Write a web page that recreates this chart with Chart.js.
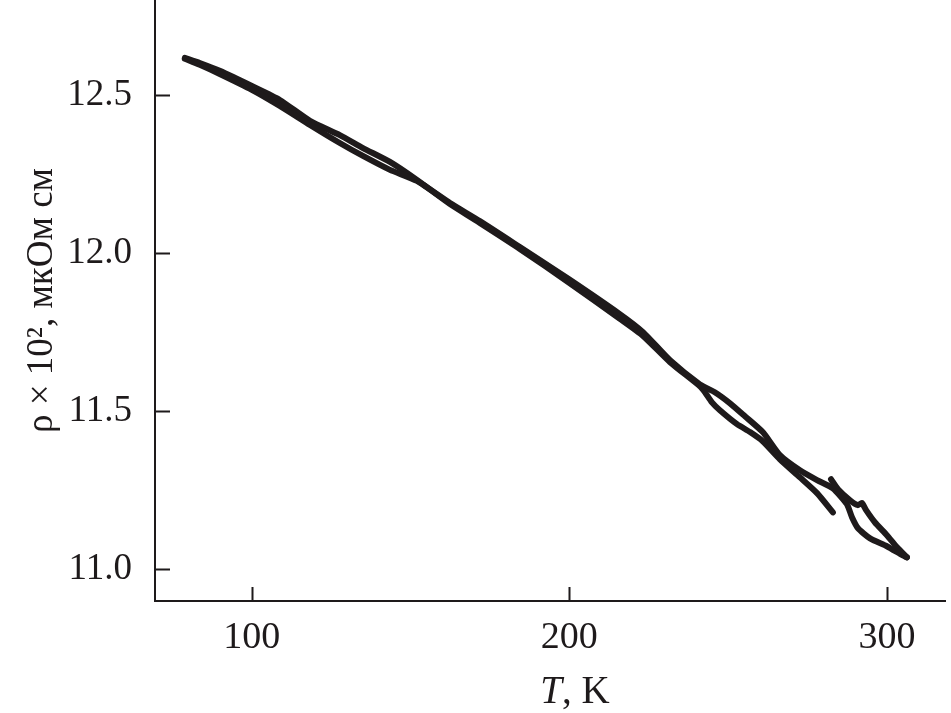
<!DOCTYPE html>
<html>
<head>
<meta charset="utf-8">
<script src="https://cdn.jsdelivr.net/npm/chart.js@4"></script>
<style>
  html, body { margin: 0; padding: 0; background: #fff; }
  canvas { display: block; }
</style>
</head>
<body>
<canvas id="chart" width="951" height="713"></canvas>
<script>
// first heating, 283 K -> 306 K
const heat1T   = [282.4, 284.6, 288.4, 290.9, 292.1, 293.4, 296.2, 300.0, 303.2, 306.3];
const heat1Rho = [11.285, 11.253, 11.218, 11.203, 11.210, 11.188, 11.149, 11.108, 11.070, 11.038];

// cooling, 306 K -> 79 K
const coolT   = [306.3, 305.0, 300.0, 294.7, 290.9, 289.0, 287.4, 283.0, 278.0, 272.6, 266.3, 260.9,
                 255.3, 250.6, 245.8, 241.1, 231.7, 223.2, 215.9, 199.8, 184.4, 171.8, 162.4, 152.0,
                 143.5, 135.0, 127.7, 118.3, 108.8, 100.0, 89.9, 83.6, 78.9];
const coolRho = [11.038, 11.044, 11.073, 11.098, 11.130, 11.165, 11.206, 11.256, 11.282, 11.313, 11.361, 11.434,
                 11.484, 11.525, 11.560, 11.585, 11.661, 11.750, 11.807, 11.918, 12.019, 12.101, 12.158, 12.228,
                 12.263, 12.307, 12.348, 12.405, 12.465, 12.516, 12.566, 12.595, 12.614];

// second heating, 79 K -> 283 K
const heat2T   = [78.9, 83.6, 89.9, 100.0, 108.8, 118.3, 127.7, 135.0, 143.5, 152.0, 162.4, 171.8,
                  184.4, 199.8, 215.9, 223.2, 231.7, 241.1, 242.7, 244.9, 247.4, 252.8, 256.9, 260.9,
                  266.3, 272.6, 278.0, 283.0];
const heat2Rho = [12.617, 12.601, 12.576, 12.528, 12.484, 12.418, 12.373, 12.332, 12.288, 12.231, 12.155, 12.095,
                  12.013, 11.907, 11.792, 11.738, 11.655, 11.579, 11.560, 11.528, 11.503, 11.459, 11.434, 11.405,
                  11.348, 11.291, 11.241, 11.180];

const xTicks = [100, 200, 300];
const yTicks = [11.0, 11.5, 12.0, 12.5];

const ink = '#1e1a1b';
const serif = "'Liberation Serif', 'DejaVu Serif', serif";

const toPoints = (xs, ys) => xs.map((t, i) => ({ x: t, y: ys[i] }));

const lineStyle = {
    borderColor: ink,
    borderWidth: 6,
    borderCapStyle: 'round',
    borderJoinStyle: 'round',
    pointRadius: 0,
    tension: 0.2,
    showLine: true,
    fill: false
};

// ticks point into the plot, and the x title has an italic T
const axisExtras = {
    id: 'axisExtras',
    afterDraw(chart) {
        const { ctx, chartArea, scales: { x, y } } = chart;
        ctx.save();
        ctx.strokeStyle = ink;
        ctx.lineWidth = 2;
        ctx.beginPath();
        xTicks.forEach(v => {
            const px = Math.round(x.getPixelForValue(v)) + 0.5;
            ctx.moveTo(px, chartArea.bottom);
            ctx.lineTo(px, chartArea.bottom - 14);
        });
        yTicks.forEach(v => {
            const py = Math.round(y.getPixelForValue(v)) + 0.5;
            ctx.moveTo(chartArea.left, py);
            ctx.lineTo(chartArea.left + 15, py);
        });
        ctx.stroke();

        ctx.fillStyle = ink;
        ctx.textBaseline = 'alphabetic';
        const italic = 'italic 39px ' + serif;
        const upright = '39px ' + serif;
        ctx.font = italic;
        const wT = ctx.measureText('T').width;
        ctx.font = upright;
        const wRest = ctx.measureText(', K').width;
        const cx = (chartArea.left + chartArea.right) / 2 + 25;
        let sx = cx - (wT + wRest) / 2;
        ctx.font = italic;
        ctx.fillText('T', sx, 703);
        ctx.font = upright;
        ctx.fillText(', K', sx + wT, 703);
        ctx.restore();
    }
};

new Chart(document.getElementById('chart').getContext('2d'), {
    type: 'scatter',
    data: {
        datasets: [
            { ...lineStyle, data: toPoints(heat1T, heat1Rho) },
            { ...lineStyle, data: toPoints(coolT, coolRho) },
            { ...lineStyle, data: toPoints(heat2T, heat2Rho) }
        ]
    },
    options: {
        responsive: false,
        devicePixelRatio: 1,
        animation: false,
        layout: { padding: { left: 0, right: 6, top: 0, bottom: 0 } },
        plugins: { legend: { display: false }, tooltip: { enabled: false } },
        scales: {
            x: {
                type: 'linear',
                min: 69.5,
                max: 318.3,
                afterBuildTicks: (scale) => { scale.ticks = xTicks.map(v => ({ value: v })); },
                afterFit: (scale) => {
                    scale.height = 112;
                    scale.paddingLeft = 0;
                    scale.paddingRight = 0;
                },
                grid: { display: false },
                border: { display: true, color: ink, width: 2 },
                ticks: {
                    color: ink,
                    padding: 6,
                    maxRotation: 0,
                    font: { family: serif, size: 38 },
                    callback: (v) => String(v)
                }
            },
            y: {
                type: 'linear',
                min: 10.9,
                max: 12.8,
                afterBuildTicks: (scale) => { scale.ticks = yTicks.map(v => ({ value: v })); },
                afterFit: (scale) => {
                    scale.width = 155;
                    scale.paddingTop = 0;
                    scale.paddingBottom = 0;
                },
                grid: { display: false },
                border: { display: true, color: ink, width: 2 },
                ticks: {
                    color: ink,
                    padding: 15,
                    font: { family: serif, size: 37 },
                    callback: (v) => Number(v).toFixed(1)
                },
                title: {
                    display: true,
                    text: 'ρ × 10², мкОм см',
                    color: ink,
                    padding: { top: 20, bottom: 0 },
                    font: { family: serif, size: 37 }
                }
            }
        }
    },
    plugins: [axisExtras]
});
</script>
</body>
</html>
